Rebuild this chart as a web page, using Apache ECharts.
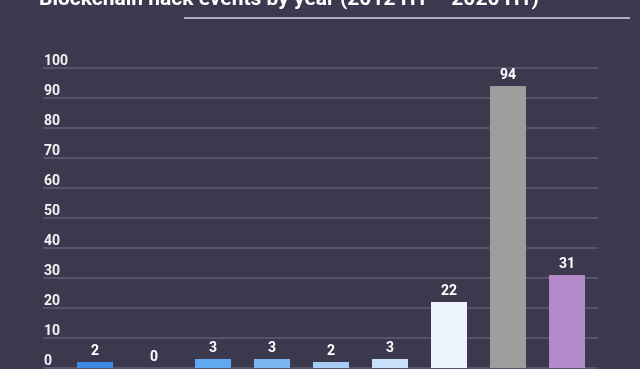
<!DOCTYPE html>
<html><head><meta charset="utf-8">
<script src="https://cdn.jsdelivr.net/npm/echarts@6/dist/echarts.min.js"></script>
<style>html,body{margin:0;padding:0;background:#3c394f;}#c{width:640px;height:369px;}</style>
</head><body><div id="c"></div>
<script>
const categories = ['2012','2013','2014','2015','2016','2017','2018','2019','2020'];
const values = [2, 0, 3, 3, 2, 3, 22, 94, 31];
const barColors = ['#3d8ae6','#3d8ae6','#62a8f0','#7cb6f0','#a7cdf4','#c8e0f8','#edf3fd','#9d9d9d','#b48acb'];
const yTicks = [0,10,20,30,40,50,60,70,80,90,100];
const titleText = 'Blockchain hack events by year (2012 H1 – 2020 H1)';

const chart = echarts.init(document.getElementById('c'), null, {renderer:'canvas'});
chart.setOption({
  backgroundColor: '#3c394f',
  animation: false,
  title: {
    text: titleText, left: 34, top: -16,
    textStyle: {color:'#ffffff', fontFamily:'Roboto', fontWeight:'bold', fontSize:21}
  },
  graphic: [{
    type:'line', shape:{x1:184, y1:18, x2:630, y2:18},
    style:{stroke:'#d8d6e4', lineWidth:1.5}
  }],
  grid: [
    {left:43, right:42, top:68, bottom:1},
    {left:65.5, right:43.5, top:68, bottom:1}
  ],
  xAxis: [
    {gridIndex:0, type:'category', data:categories, show:false},
    {gridIndex:1, type:'category', data:categories, axisLine:{show:false}, axisTick:{show:false}, axisLabel:{show:false}}
  ],
  yAxis: [
    {gridIndex:0, type:'value', min:yTicks[0], max:yTicks[yTicks.length-1], interval:10,
     axisLine:{show:false}, axisTick:{show:false},
     splitLine:{lineStyle:{color:'#5f5c74', width:1.5}},
     axisLabel:{align:'left', margin:-1, verticalAlign:'bottom', padding:[0,0,0,0],
       color:'#f2f2f2', fontFamily:'Roboto', fontWeight:'bold', fontSize:14}},
    {gridIndex:1, type:'value', min:yTicks[0], max:yTicks[yTicks.length-1], interval:10, show:false}
  ],
  series: [{
    type:'bar', xAxisIndex:1, yAxisIndex:1, barWidth:36,
    data: values.map((v,i)=>({value:v, itemStyle:{color:barColors[i]}})),
    label:{show:true, position:'top', distance:4, color:'#ffffff', fontFamily:'Roboto', fontWeight:'bold', fontSize:14}
  }]
});
</script></body></html>
